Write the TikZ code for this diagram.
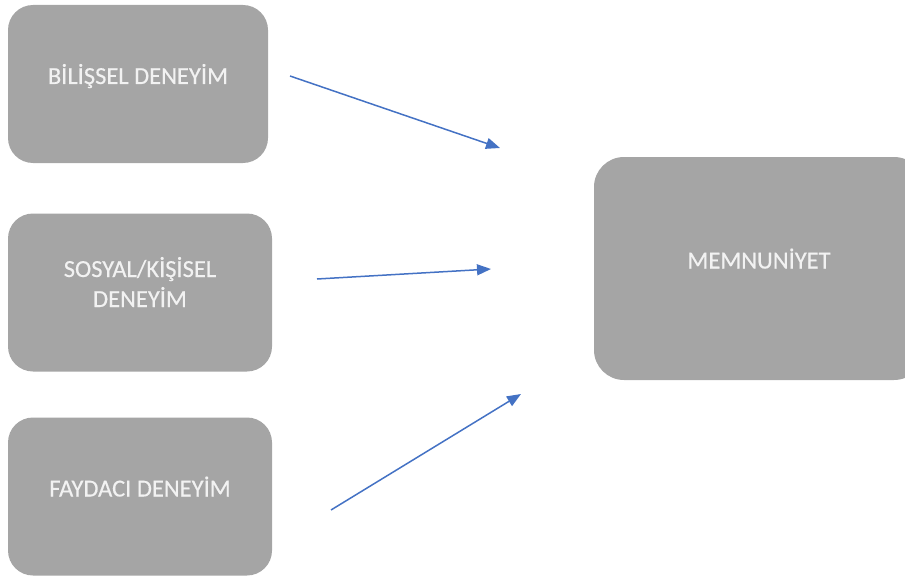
\documentclass[tikz,border=0pt]{standalone}
\usepackage{fontspec}
\setmainfont{Carlito}
\newfontfamily\boxfont[FakeBold=0.4]{Carlito}
\usepackage{tikz}
\usetikzlibrary{positioning,arrows.meta}
\definecolor{boxgray}{HTML}{A5A5A5}
\definecolor{boxtext}{HTML}{F2F2F2}
\definecolor{linkblue}{HTML}{4472C4}

\tikzset{
  factor/.style={fill=boxgray, rounded corners=25pt, inner sep=0pt, align=center,
    text=boxtext, text height=0pt, text depth=0pt,
    font=\boxfont\fontsize{24.5}{30}\selectfont},
  link/.style={draw=linkblue, line width=1.5pt, -{Triangle[length=14pt,width=11pt]}}
}

\begin{document}
\begin{tikzpicture}[x=1pt,y=-1pt]
\useasboundingbox (0,0) rectangle (905,578);
\node[factor, minimum width=260pt, minimum height=158pt] (bilissel) at (138,84) {BİLİŞSEL DENEYİM};
\node[factor, minimum width=264pt, minimum height=158pt, text height=29pt] (sosyal) at (140,292.5) {SOSYAL/KİŞİSEL\\DENEYİM};
\node[factor, minimum width=264pt, minimum height=158pt] (faydaci) at (140,496.5) {FAYDACI DENEYİM};
\node[factor, minimum width=330pt, minimum height=223pt, rounded corners=30pt] (memnuniyet) at (759,268.5) {MEMNUNİYET};

\coordinate (b1) at (290,76);
\coordinate (m1) at (500,148);
\coordinate (b2) at (317,279);
\coordinate (m2) at (491,269);
\coordinate (b3) at (331,510);
\coordinate (m3) at (521,394);

\draw[link] (b1) -- (m1);
\draw[link] (b2) -- (m2);
\draw[link] (b3) -- (m3);
\end{tikzpicture}
\end{document}
